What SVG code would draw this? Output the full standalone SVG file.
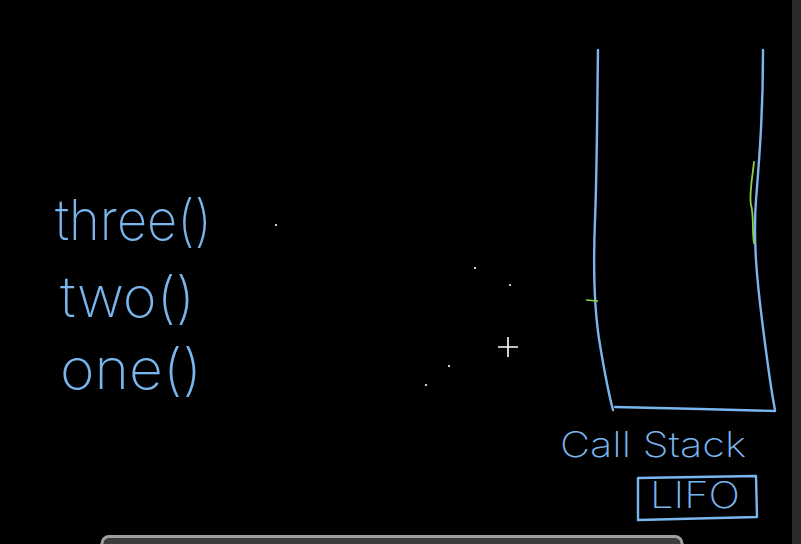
<svg xmlns="http://www.w3.org/2000/svg" width="801" height="544" viewBox="0 0 801 544">
<style>
.ink{fill:none;stroke:#7ab6ee;stroke-width:2.4;stroke-linecap:round;stroke-linejoin:round}
.hand{font-family:Inter,"Liberation Sans",sans-serif;font-weight:200;fill:#7ab6ee}
.dot{fill:#cfcfcf}
</style>
<rect width="801" height="544" fill="#000"/>
<rect x="792" y="0" width="9" height="544" fill="#2a2a2a"/>
<g id="functions">
<text class="hand" x="55" y="240" font-size="56" textLength="157" lengthAdjust="spacingAndGlyphs">three()</text>
<text class="hand" x="60" y="317" font-size="56" textLength="135" lengthAdjust="spacingAndGlyphs">two()</text>
<text class="hand" x="60" y="389" font-size="56" textLength="142" lengthAdjust="spacingAndGlyphs">one()</text>
</g>
<g id="call-stack">
<path class="ink" d="M598,50 C597,120 597,170 595,220 C593,270 594,310 600,345 C605,375 609,395 613,410"/>
<path class="ink" d="M763,50 C763,110 760,150 756,200 C753,240 757,280 762,320 C767,360 771,390 775,410"/>
<path class="ink" d="M615,407 L700,409 L775,411"/>
<path d="M754,162 C752,180 749,195 751,205 C754,215 752,230 754,243" fill="none" stroke="#8fd14f" stroke-width="1.8" stroke-linecap="round"/>
<path d="M586,300 L598,301" fill="none" stroke="#8fd14f" stroke-width="1.6"/>
</g>
<g id="labels">
<text class="hand" x="560" y="457" font-size="35" textLength="186" lengthAdjust="spacingAndGlyphs">Call Stack</text>
<path class="ink" d="M638,478 L756,476 L757,517 L638,520 Z"/>
<text class="hand" x="650" y="508" font-size="37" textLength="90" lengthAdjust="spacingAndGlyphs">LIFO</text>
</g>
<g id="dots">
<rect class="dot" x="275" y="224" width="2" height="2"/>
<rect class="dot" x="474" y="267" width="2" height="2"/>
<rect class="dot" x="509" y="284" width="2" height="2"/>
<rect class="dot" x="448" y="365" width="2" height="2"/>
<rect class="dot" x="425" y="384" width="2" height="2"/>
</g>
<g id="cursor">
<path d="M508,336 V358 M497,347 H519" stroke="#000" stroke-width="4"/>
<path d="M508,337 V357 M498,347 H518" stroke="#fff" stroke-width="1.6"/>
</g>
<g id="scrollbar">
<rect x="102" y="536.5" width="580" height="16" rx="7" fill="#3c3c3c" stroke="#a0a0a0" stroke-width="3"/>
</g>
</svg>
